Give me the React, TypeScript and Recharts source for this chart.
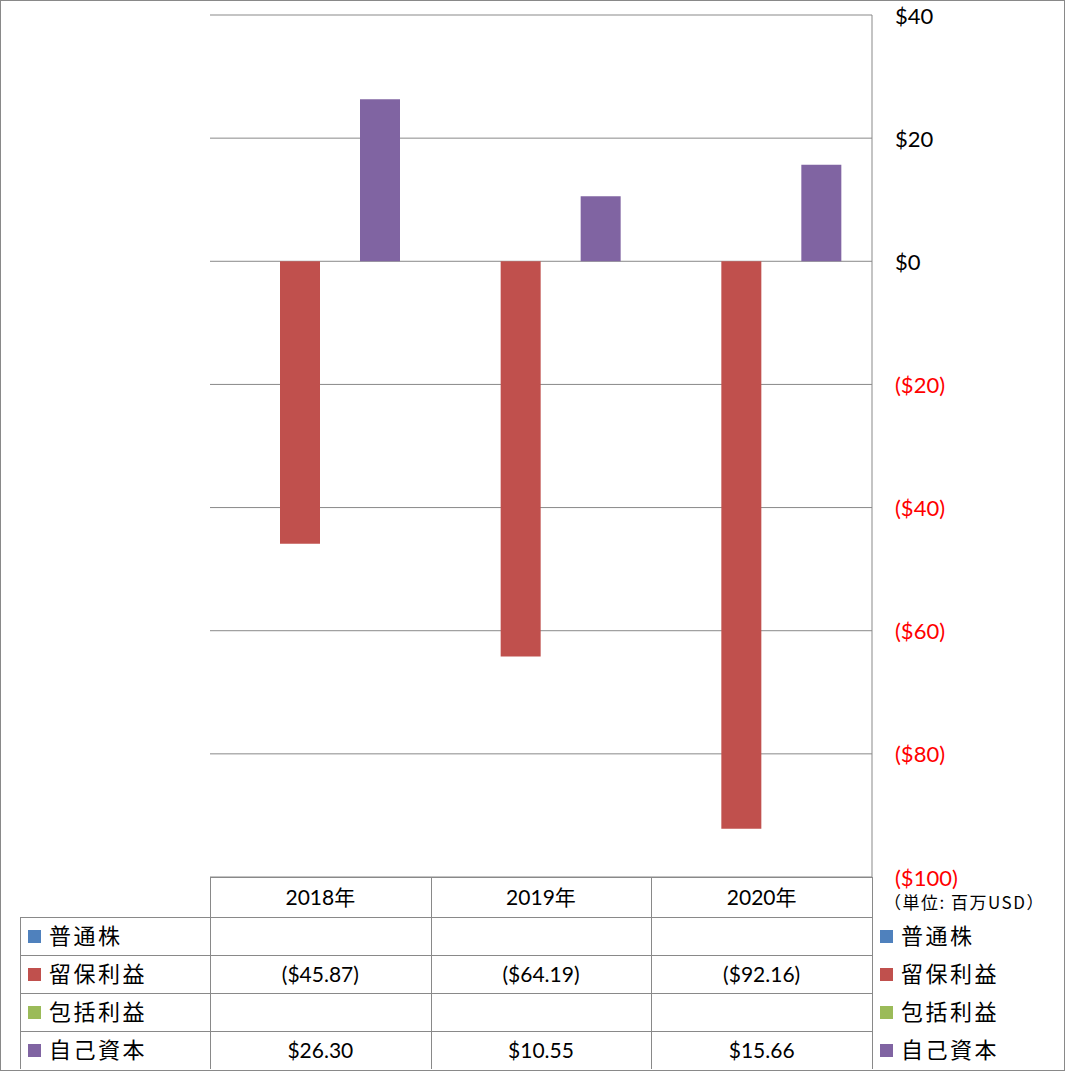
import React from "react";
import { BarChart, Bar, XAxis, YAxis, CartesianGrid } from "recharts";

const YEARS = ["2018年", "2019年", "2020年"];
const SERIES = ["普通株", "留保利益", "包括利益", "自己資本"];
const COLORS = ["#4F81BD", "#C0504D", "#9BBB59", "#8064A2"];
const COMMON: (number | null)[] = [null, null, null];
const RETAINED: (number | null)[] = [-45.87, -64.19, -92.16];
const COMPREHENSIVE: (number | null)[] = [null, null, null];
const EQUITY: (number | null)[] = [26.3, 10.55, 15.66];
const Y_TICKS = [40, 20, 0, -20, -40, -60, -80, -100];

const VALUES = [COMMON, RETAINED, COMPREHENSIVE, EQUITY];
const KEYS = ["common", "retained", "comprehensive", "equity"];

const data = YEARS.map((year, i) => ({
  year,
  common: COMMON[i],
  retained: RETAINED[i],
  comprehensive: COMPREHENSIVE[i],
  equity: EQUITY[i],
}));

const W = 1066;
const H = 1071;
const PLOT_L = 210;
const PLOT_R = 872;
const PLOT_T = 15;
const PLOT_B = 877;
const ROW_H = 38;
const HEAD_H = 40;
const TABLE_L = 20;
const LINE = "#898989";
const FONT = "Lato, 'Noto Sans CJK JP', sans-serif";
const CJK = "'Noto Sans CJK JP', sans-serif";

const money = (v: number) => (v < 0 ? `($${Math.abs(v)})` : `$${v}`);
const moneyFixed = (v: number | null) =>
  v == null ? "" : v < 0 ? `($${Math.abs(v).toFixed(2)})` : `$${v.toFixed(2)}`;

function Tick(props: any) {
  const { x, y, payload } = props;
  const v = payload.value as number;
  return (
    <text
      x={x}
      y={y}
      textAnchor="start"
      dominantBaseline="central"
      fill={v < 0 ? "#FF0000" : "#000"}
      fontSize={22}
      fontFamily={FONT}
    >
      {money(v)}
    </text>
  );
}

function HLine({ x1, x2, y }: { x1: number; x2: number; y: number }) {
  return (
    <div
      style={{
        position: "absolute",
        left: x1,
        top: y,
        width: x2 - x1,
        height: 1,
        background: LINE,
      }}
    />
  );
}

function VLine({ x, y1, y2 }: { x: number; y1: number; y2: number }) {
  return (
    <div
      style={{
        position: "absolute",
        left: x,
        top: y1,
        width: 1,
        height: y2 - y1,
        background: LINE,
      }}
    />
  );
}

function LegendItem({ x, y, i }: { x: number; y: number; i: number }) {
  return (
    <div
      style={{
        position: "absolute",
        left: x,
        top: y,
        height: ROW_H,
        display: "flex",
        alignItems: "center",
      }}
    >
      <div style={{ width: 13, height: 13, background: COLORS[i], marginRight: 8 }} />
      <span
        style={{
          fontFamily: CJK,
          fontSize: 22,
          letterSpacing: 2.5,
          color: "#000",
          position: "relative",
          top: -2,
        }}
      >
        {SERIES[i]}
      </span>
    </div>
  );
}

export default function App() {
  const colW = (PLOT_R - PLOT_L) / YEARS.length;
  const tableBottom = PLOT_B + HEAD_H + ROW_H * SERIES.length;
  return (
    <div style={{ position: "absolute", left: 0, top: 0, width: W, height: H, background: "#fff" }}>
      <BarChart
        width={W}
        height={H}
        data={data}
        margin={{ top: PLOT_T, right: 0, left: PLOT_L, bottom: H - PLOT_B }}
        barGap={0}
        barSize={40}
      >
        <CartesianGrid vertical={false} stroke={LINE} />
        <XAxis dataKey="year" hide />
        <YAxis
          orientation="right"
          width={W - PLOT_R}
          domain={[-100, 40]}
          ticks={Y_TICKS}
          interval={0}
          tickLine={false}
          tickMargin={17}
          axisLine={{ stroke: LINE }}
          tick={<Tick />}
        />
        {KEYS.map((k, i) => (
          <Bar key={k} dataKey={k} name={SERIES[i]} fill={COLORS[i]} isAnimationActive={false} />
        ))}
      </BarChart>

      {/* data table */}
      <HLine x1={PLOT_L} x2={PLOT_R} y={PLOT_B} />
      {SERIES.map((_, r) => (
        <HLine key={r} x1={TABLE_L} x2={PLOT_R} y={PLOT_B + HEAD_H + ROW_H * r} />
      ))}
      <VLine x={TABLE_L} y1={PLOT_B + HEAD_H} y2={tableBottom} />
      {[0, 1, 2, 3].map((c) => (
        <VLine key={c} x={Math.round(PLOT_L + colW * c)} y1={PLOT_B} y2={tableBottom} />
      ))}
      {YEARS.map((y, c) => (
        <div
          key={y}
          style={{
            position: "absolute",
            left: PLOT_L + colW * c,
            top: PLOT_B - 1,
            width: colW,
            height: HEAD_H,
            display: "flex",
            alignItems: "center",
            justifyContent: "center",
            fontFamily: FONT,
            fontSize: 21,
            color: "#000",
          }}
        >
          {y}
        </div>
      ))}
      {SERIES.map((_, r) => (
        <React.Fragment key={r}>
          <LegendItem x={28} y={PLOT_B + HEAD_H + ROW_H * r} i={r} />
          <LegendItem x={880} y={PLOT_B + HEAD_H + ROW_H * r} i={r} />
          {YEARS.map((_y, c) => (
            <div
              key={c}
              style={{
                position: "absolute",
                left: PLOT_L + colW * c,
                top: PLOT_B + HEAD_H + ROW_H * r - 1,
                width: colW,
                height: ROW_H,
                display: "flex",
                alignItems: "center",
                justifyContent: "center",
                fontFamily: FONT,
                fontSize: 21,
                color: "#000",
              }}
            >
              {moneyFixed(VALUES[r][c])}
            </div>
          ))}
        </React.Fragment>
      ))}
      <div
        style={{
          position: "absolute",
          left: 884,
          top: 892,
          fontFamily: CJK,
          fontSize: 17,
          letterSpacing: 1.5,
          lineHeight: "20px",
          color: "#000",
          whiteSpace: "nowrap",
        }}
      >
        （単位: 百万USD）
      </div>
      <div
        style={{
          position: "absolute",
          left: 0,
          top: 0,
          width: 1065,
          height: H,
          border: `1px solid ${LINE}`,
          boxSizing: "border-box",
          pointerEvents: "none",
        }}
      />
    </div>
  );
}
